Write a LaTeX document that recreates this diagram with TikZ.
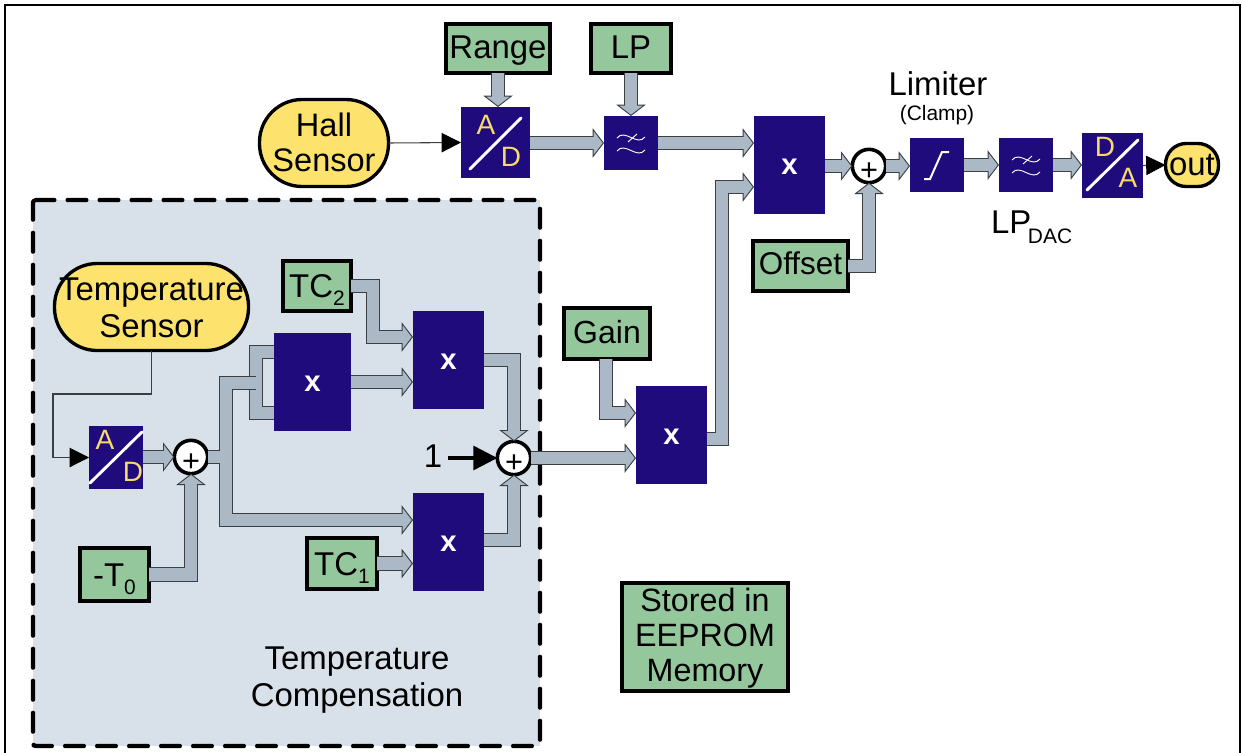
\documentclass[tikz,border=0pt]{standalone}
\usepackage{fontspec}
\setmainfont{Liberation Sans}
\usetikzlibrary{arrows.meta,calc}
\definecolor{panelc}{HTML}{D8E0E9}
\definecolor{greenc}{HTML}{95C79C}
\definecolor{yellowc}{HTML}{FDE36E}
\definecolor{bluec}{HTML}{1F0B7B}
\definecolor{steelc}{HTML}{ABB8C6}
\definecolor{edgec}{HTML}{3A3F44}
\definecolor{letterc}{HTML}{F6DA6C}
\newcommand{\bigfont}{\fontsize{24.7}{26}\selectfont}
\newcommand{\subfont}{\fontsize{15.7}{18}\selectfont}
\newcommand{\subtext}[2]{\raisebox{#1}{\subfont #2}}
\tikzset{
  x=0.75pt,y=-0.75pt,
  sz/.style 2 args={minimum width=#1*0.75pt,minimum height=#2*0.75pt},
  every node/.style={inner sep=0pt,outer sep=0pt,align=center,font=\bigfont},
  th/.style 2 args={text height=#1,text depth=#2},
  store/.style={draw=black,line width=2.7pt,fill=greenc},
  sensor/.style={draw=black,line width=2.5pt,fill=yellowc,rounded corners=32pt},
  blockb/.style={fill=bluec},
  mul/.style={blockb,sz={71}{98},text=white,th={14.5pt}{0pt},font=\fontsize{22}{22}\selectfont\bfseries},
  adder/.style={circle,draw=black,line width=2.7pt,fill=white,minimum size=25pt,th={21pt}{0pt},font=\fontsize{23}{23}\selectfont},
  letter/.style={text=letterc,font=\fontsize{21}{21}\selectfont},
  slash/.style={draw=white,line width=2.2pt,line cap=round},
  fine/.style={draw=white,line width=0.7pt},
  fat/.style={draw=edgec,line width=11.2pt,
    -{Triangle[length=8.5pt,width=22pt,color=edgec,fill=steelc,line width=0.7pt]},
    postaction={draw=steelc,line width=9.6pt,arrows=-,shorten >=7.5pt}},
  fatplain/.style={draw=edgec,line width=11.2pt,
    postaction={draw=steelc,line width=9.6pt}},
  thin/.style={draw=edgec,line width=0.8pt,-{Triangle[length=14.5pt,width=14.5pt,color=black,fill=black]}},
  thick1/.style={draw=black,line width=2.4pt,-{Triangle[length=18pt,width=18pt,color=black,fill=black]}},
}
\begin{document}
\begin{tikzpicture}
\useasboundingbox (0,0) rectangle (1242,753);
% frame
\draw[black,line width=1.6pt] (5,753) -- (5,5) -- (1240,5) -- (1240,753);
% panel
\node[fill=panelc,sz={507}{546}] (panel) at (286.5,473) {};
\draw[black,line width=3.3pt,line cap=round,dash pattern=on 14pt off 10pt,rounded corners=2pt]
  (panel.north west) -- (panel.north east) -- (panel.south east) -- (panel.south west) -- cycle;

% sensors
\node[sensor,sz={129}{87},th={42pt}{0pt},font=\fontsize{24.4}{26.25}\selectfont] (hall) at (324,143) {Hall\\Sensor};
\node[sensor,sz={194}{87},th={45pt}{0pt},font=\fontsize{24.7}{27.75}\selectfont] (temp) at (151.5,307) {Temperature\\Sensor};
\node[sensor,rounded corners=15.5pt,sz={53}{43},th={17.7pt}{2.7pt}] (out) at (1192,165) {out};

% stored values
\node[store,sz={104.5}{49.5},th={17.7pt}{2.5pt}] (range) at (498,48.5) {Range};
\node[store,sz={80.5}{49.5},th={17.7pt}{2.5pt}] (lp) at (631,48.5) {LP};
\node[store,sz={68.5}{50.5},th={17.7pt}{0.4pt}] (tc2) at (317,286) {TC\subtext{-6pt}{2}};
\node[store,sz={86.5}{51.5},th={17.7pt}{2.2pt},font=\fontsize{24}{26}\selectfont] (gain) at (607,333.5) {Gain};
\node[store,sz={69.5}{53.5},th={17.7pt}{0.4pt}] (t0) at (114.5,574.5) {-T\subtext{-6pt}{0}};
\node[store,sz={70.5}{51.5},th={17.7pt}{0.4pt}] (tc1) at (342,563.5) {TC\subtext{-6pt}{1}};
\node[store,sz={95.5}{50.5},th={17.7pt}{5pt},font=\fontsize{23.6}{26}\selectfont] (offset) at (800.5,266) {Offset};
\node[store,sz={166.5}{108.5},th={66pt}{0pt},font=\fontsize{24.2}{25.9}\selectfont] (stored) at (705,637) {Stored in\\EEPROM\\Memory};

% multipliers
\node[mul,sz={77}{98}] (m1) at (312.5,382) {x};
\node[mul] (m2) at (448.5,360) {x};
\node[mul] (m3) at (448.5,542) {x};
\node[mul] (m4) at (671.5,435) {x};
\node[mul] (m5) at (789.5,165) {x};

% adders
\node[adder] (a1) at (191,457) {+};
\node[adder] (a2) at (514,458) {+};
\node[adder] (a3) at (869,166) {+};

% converters
\node[blockb,sz={69}{71}] (ad1) at (495.5,142.5) {};
\node[letter] (ad1a) at (486,125) {A};
\node[letter] (ad1d) at (511,157) {D};
\draw[slash] (470,169) -- (521,118);
\node[blockb,sz={54}{63}] (ad2) at (116,457.5) {};
\node[letter] (ad2a) at (105,440) {A};
\node[letter] (ad2d) at (133,472) {D};
\draw[slash] (90,483) -- (142,432);
\node[blockb,sz={61}{65}] (da) at (1112.5,165.5) {};
\node[letter] (dad) at (1105,147) {D};
\node[letter] (daa) at (1128,178) {A};
\draw[slash] (1087,190) -- (1138,140);

% filters
\node[blockb,sz={54}{54}] (lp1) at (631,143) {};
\draw[fine] (617,138) .. controls (625,128) and (637,147) .. (645,137);
\draw[fine] (617,151) .. controls (625,141) and (637,160) .. (645,150);
\draw[fine] (628,142) -- (637,134);
\node[blockb,sz={54}{54}] (lp2) at (1026,165) {};
\draw[fine] (1012,160) .. controls (1020,150) and (1032,169) .. (1040,159);
\draw[fine] (1012,173) .. controls (1020,163) and (1032,182) .. (1040,172);
\draw[fine] (1023,164) -- (1032,156);

% limiter
\node[blockb,sz={54}{54}] (lim) at (937,165) {};
\draw[draw=white,line width=1.5pt] (924,179) -- (930,179) -- (942,152) -- (949,152);

% labels
\node[th={17.7pt}{0pt}] (limtxt) at (938,84) {Limiter};
\node[th={11.4pt}{0pt},font=\fontsize{15.7}{18}\selectfont] (clamp) at (937,113) {(Clamp)};
\node[anchor=base west] (lpdac) at (991,233) {LP\hspace{-2.5pt}\subtext{-8pt}{DAC}};
\node[th={17.7pt}{0pt}] (one) at (433,456) {1};
\node[th={43.5pt}{0pt},font=\fontsize{24.7}{27.75}\selectfont] (tclabel) at (357,677) {Temperature\\Compensation};

% thin connectors
\draw[thin] (hall.east) -- (ad1.west);
\draw[thin] (temp.south) |- (53,394) |- (ad2.west);
\draw[thin] (da.east) -- (out.west);
\draw[thick1] (one.east) ++(6,2) -- (a2.west);

% wide connectors, top row
\draw[fat] (range.south) -- (ad1.north -| range.south);
\draw[fat] (lp.south) -- (lp1.north);
\draw[fat] (ad1.east |- lp1.west) -- (lp1.west);
\draw[fat] (lp1.east) -- (m5.west |- lp1.east);
\draw[fat] (m5.east |- a3.west) -- (a3.west);
\draw[fat] (a3.east) -- (lim.west |- a3.east);
\draw[fat] (lim.east) -- (lp2.west);
\draw[fat] (lp2.east) -- (da.west |- lp2.east);
\draw[fat] (offset.east) -| (a3.south);

% wide connectors, gain stage
\draw[fat] (m4.east |- 0,439) -| (722,187) -- (m5.west |- 0,187);
\draw[fat] (gain.south) ++(-1,0) |- (m4.west |- 0,413);
\draw[fat] (a2.east) -- (m4.west |- a2.east);

% wide connectors, temperature compensation
\draw[fat] (ad2.east |- a1.west) -- (a1.west);
\draw[fat] (t0.east) -| (a1.south);
\draw[fatplain] (m1.west |- 0,352) -| (256,413) -- (m1.west |- 0,413);
\draw[fat] (a1.east) -- (226,457) (256,383) -- (226,383) -- (226,520) -- (m3.west |- 0,520);
\draw[fat] (tc2.east) -| (373,337) -- (m2.west |- 0,337);
\draw[fat] (m1.east) -- (m2.west |- m1.east);
\draw[fat] (tc1.east) -- (m3.west |- tc1.east);
\draw[fat] (m2.east) -| (a2.north);
\draw[fat] (m3.east |- 0,540) -| (a2.south);
\end{tikzpicture}
\end{document}
